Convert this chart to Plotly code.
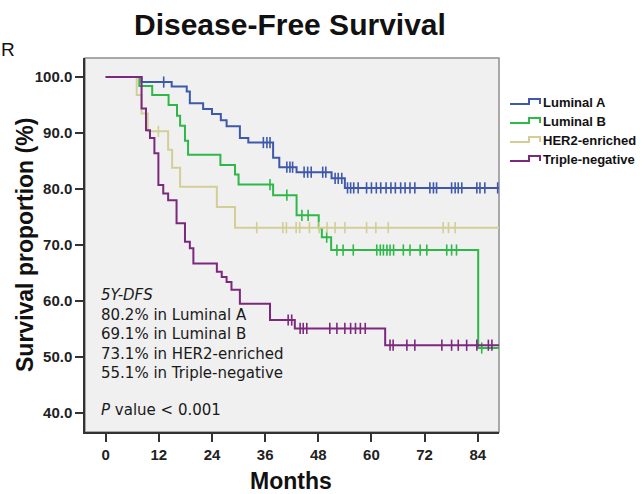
import plotly.graph_objects as go

# ---- Kaplan-Meier data (months, survival %) ----
END_T = 88.8

LUMA_EVENT_T = [8.1, 14.9, 18.3, 19.0, 22.0, 24.0, 26.0, 27.3, 30.3, 32.2, 37.8, 39.2, 43.1, 51.0, 54.0]
LUMA_SURV = [99.1, 98.3, 97.4, 95.3, 94.3, 93.4, 92.3, 91.2, 89.1, 88.3, 85.6, 83.9, 83.0, 81.9, 80.2]
LUMA_CENSOR = [13.1, 35.6, 36.4, 37.1, 40.9, 41.6, 42.2, 44.8, 45.6, 46.4, 49.0, 49.7,
               51.8, 52.5, 53.3, 54.6, 55.3, 56.0, 57.0, 58.9, 60.0, 61.1, 62.1, 63.3,
               64.4, 65.4, 66.6, 67.6, 68.7, 69.8, 73.2, 74.0, 74.7, 78.1, 78.9, 79.6,
               80.4, 83.8, 84.5, 85.6, 88.5]

LUMB_EVENT_T = [7.6, 10.5, 14.2, 16.1, 16.8, 17.9, 18.6, 25.9, 29.2, 30.0, 37.8, 43.1, 48.1, 48.8, 50.9, 84.1]
LUMB_SURV = [98.4, 96.8, 95.0, 93.1, 91.3, 88.6, 86.1, 84.3, 82.6, 80.8, 78.9, 75.3, 73.0, 71.4, 69.1, 51.6]
LUMB_CENSOR = [37.1, 40.9, 44.3, 45.7, 49.9, 52.2, 53.6, 55.9, 61.2, 62.0, 62.7, 63.5,
               64.2, 65.0, 67.2, 68.7, 71.0, 72.5, 77.0, 78.1, 79.2, 84.9]

HER2_EVENT_T = [7.0, 8.1, 9.5, 14.1, 15.0, 16.8, 25.1, 29.2]
HER2_SURV = [96.8, 93.5, 90.3, 87.0, 83.8, 80.4, 76.8, 73.1]
HER2_CENSOR = [11.9, 34.1, 40.0, 40.8, 43.0, 43.8, 46.0, 48.2, 50.0, 51.8, 54.0,
               58.9, 61.0, 63.8, 76.2, 77.4, 78.9]

TNBC_EVENT_T = [8.1, 9.1, 10.0, 11.0, 11.9, 13.0, 14.1, 16.0, 17.9, 19.0, 19.8,
                25.1, 26.2, 27.3, 28.4, 30.3, 37.1, 42.7, 63.1]
TNBC_SURV = [94.4, 90.5, 89.1, 86.4, 80.7, 79.2, 78.0, 73.9, 70.6, 69.4, 66.7,
             65.2, 64.3, 63.4, 62.0, 59.5, 56.6, 55.1, 52.1]
TNBC_CENSOR = [41.2, 42.0, 43.9, 44.6, 45.4, 50.6, 52.2, 54.0, 55.3, 56.4, 57.5, 58.6,
               64.2, 64.9, 68.0, 69.8, 75.9, 78.1, 79.6, 81.5, 83.8, 86.4, 87.2]

GROUP_NAMES = ["Luminal A", "Luminal B", "HER2-enriched", "Triple-negative"]
GROUP_COLORS = ["#3E58AC", "#2EB848", "#D3CE97", "#7C287D"]

DFS_5Y = ["80.2% in Luminal A", "69.1% in Luminal B",
          "73.1% in HER2-enriched", "55.1% in Triple-negative"]

X_TICKS = [0, 12, 24, 36, 48, 60, 72, 84]
Y_TICKS = [40, 50, 60, 70, 80, 90, 100]
Y_TICK_TEXT = ["40.0", "50.0", "60.0", "70.0", "80.0", "90.0", "100.0"]

groups = [
    (LUMA_EVENT_T, LUMA_SURV, LUMA_CENSOR),
    (LUMB_EVENT_T, LUMB_SURV, LUMB_CENSOR),
    (HER2_EVENT_T, HER2_SURV, HER2_CENSOR),
    (TNBC_EVENT_T, TNBC_SURV, TNBC_CENSOR),
]

# ---- canvas geometry ----
W, H = 644, 494
L, R, T, B = 85, 145, 58, 62
PW, PH = W - L - R, H - T - B


def px(xp):
    return (xp - L) / PW


def py(yp):
    return (H - B - yp) / PH


def surv_at(times, surv, t):
    s = 100.0
    for ti, si in zip(times, surv):
        if ti <= t:
            s = si
    return s


fig = go.Figure()

for name, color, (et, sv, cens) in zip(GROUP_NAMES, GROUP_COLORS, groups):
    xs = [0] + list(et) + [END_T]
    ys = [100] + list(sv) + [sv[-1]]
    fig.add_trace(go.Scatter(
        x=xs, y=ys, mode="lines", line=dict(color=color, width=2, shape="hv"),
        name=name, showlegend=False, hoverinfo="skip"))
    fig.add_trace(go.Scatter(
        x=cens, y=[surv_at(et, sv, c) for c in cens], mode="markers",
        marker=dict(symbol="line-ns", size=8, line=dict(color=color, width=1.6)),
        showlegend=False, hoverinfo="skip"))

tick_font = dict(family="Liberation Sans Narrow, Arial Narrow, Liberation Sans, Arial",
                 size=15, color="#222222", weight="bold")
axis_common = dict(showgrid=False, zeroline=False, ticks="outside", ticklen=8,
                   tickwidth=1.5, tickcolor="#333333", showline=True,
                   linecolor="#333333", linewidth=1.5, tickfont=tick_font)

fig.update_xaxes(range=[-4.67, 88.8], tickvals=X_TICKS, **axis_common)
fig.update_yaxes(range=[36.6, 103.4], tickvals=Y_TICKS, ticktext=Y_TICK_TEXT, **axis_common)

shapes = [dict(type="rect", xref="paper", yref="paper", x0=0, y0=0, x1=1, y1=1,
               line=dict(color="#8f8f8f", width=1.5), layer="below")]

annotations = []
title_font = dict(family="Liberation Sans, Arial", color="#111111", weight="bold")

annotations.append(dict(text="Disease-Free Survival", x=px(290), y=py(24), xref="paper",
                        yref="paper", showarrow=False, xanchor="center", yanchor="middle",
                        font=dict(size=30, **title_font)))
annotations.append(dict(text="Months", x=px(291), y=py(481), xref="paper", yref="paper",
                        showarrow=False, xanchor="center", yanchor="middle",
                        font=dict(size=23, **title_font)))
annotations.append(dict(text="Survival proportion (%)", x=px(25), y=py(245), xref="paper",
                        yref="paper", showarrow=False, xanchor="center", yanchor="middle",
                        textangle=-90, font=dict(size=23, **title_font)))
annotations.append(dict(text="R", x=px(0), y=py(50), xref="paper", yref="paper",
                        showarrow=False, xanchor="left", yanchor="middle", borderpad=0,
                        font=dict(family="Liberation Sans, Arial", size=19, color="#111111")))

# 5-year disease-free survival summary, one text block
body_font = dict(family="DejaVu Sans, Noto Sans, Open Sans", size=15, color="#1a1a1a")
summary = "<br>".join(["<i>5Y-DFS</i>"] + DFS_5Y)
annotations.append(dict(text=summary, x=px(99), y=py(334), xref="paper",
                        yref="paper", showarrow=False, xanchor="left", yanchor="middle",
                        align="left", font=body_font))
annotations.append(dict(text="<i>P</i> value &lt; 0.001", x=px(99), y=py(410), xref="paper",
                        yref="paper", showarrow=False, xanchor="left", yanchor="middle",
                        font=body_font))

# Legend with step-shaped keys
legend_font = dict(family="Liberation Sans, Arial", size=13, color="#111111", weight="bold")
for i, (name, color) in enumerate(zip(GROUP_NAMES, GROUP_COLORS)):
    yc = 102 + i * 19
    pts = [(510, yc + 2), (529, yc + 2), (529, yc - 3), (540, yc - 3), (540, yc + 2)]
    path = "M " + " L ".join(f"{px(a):.5f},{py(b):.5f}" for a, b in pts)
    shapes.append(dict(type="path", xref="paper", yref="paper", path=path,
                       line=dict(color=color, width=2)))
    annotations.append(dict(text=name, x=px(541), y=py(yc), xref="paper", yref="paper",
                            showarrow=False, xanchor="left", yanchor="middle",
                            font=legend_font))

fig.update_layout(
    width=W, height=H, autosize=False,
    margin=dict(l=L, r=R, t=T, b=B, pad=0),
    paper_bgcolor="white", plot_bgcolor="#f0f0f0",
    showlegend=False, shapes=shapes, annotations=annotations,
)

fig.write_html("out.html")
